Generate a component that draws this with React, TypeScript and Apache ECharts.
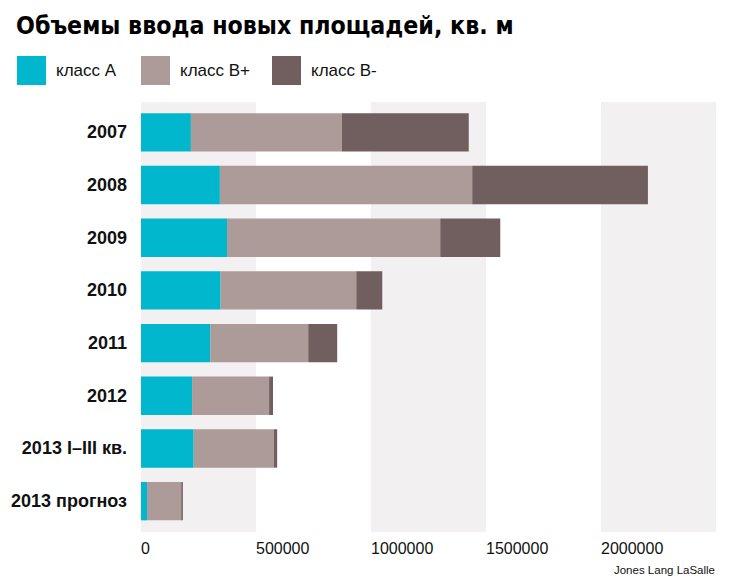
import React, { useEffect, useRef } from "react";
import * as echarts from "echarts";

const categories = ["2007", "2008", "2009", "2010", "2011", "2012", "2013 I–III кв.", "2013 прогноз"];
const seriesNames = ["класс А", "класс В+", "класс В-"];
const classA = [217000, 343000, 374000, 346000, 301000, 222000, 229000, 26000];
const classBPlus = [656000, 1097000, 927000, 590000, 426000, 335000, 349000, 149000];
const classBMinus = [552000, 764000, 261000, 113000, 126000, 17000, 14000, 7000];
const xTicks = [0, 500000, 1000000, 1500000, 2000000, 2500000];
const colors = ["#00b7cd", "#ad9b9a", "#705f5e"];

const titleText = "Объемы ввода новых площадей, кв. м";
const sourceText = "Jones Lang LaSalle";

export default function App() {
  const ref = useRef<HTMLDivElement>(null);
  useEffect(() => {
    if (!ref.current) return;
    const chart = echarts.init(ref.current, undefined, { renderer: "svg" });
    const values = [classA, classBPlus, classBMinus];
    const legendLefts = [17, 141, 272];
    const xMin = xTicks[0];
    const xMax = xTicks[xTicks.length - 1];
    const interval = xTicks[1] - xTicks[0];
    chart.setOption({
      animation: false,
      backgroundColor: "#ffffff",
      textStyle: { fontFamily: '"Liberation Sans", Arial, sans-serif' },
      graphic: [
        {
          type: "text",
          left: 16,
          top: 13,
          style: {
            text: titleText,
            fontFamily: '"DejaVu Sans Condensed", "Liberation Sans Narrow", "DejaVu Sans", sans-serif',
            fontWeight: "bold",
            fontSize: 24.7,
            fill: "#000000",
          },
        },
        {
          type: "text",
          right: 23,
          top: 564,
          style: {
            text: sourceText,
            fontFamily: '"Liberation Sans", Arial, sans-serif',
            fontSize: 11.5,
            fill: "#111111",
          },
        },
      ],
      legend: seriesNames.map((n, i) => ({
        data: [n],
        left: legendLefts[i],
        top: 56,
        padding: 0,
        icon: "rect",
        itemWidth: 29,
        itemHeight: 29,
        selectedMode: false,
        textStyle: {
          fontSize: 17,
          color: "#111111",
          padding: [0, 0, 0, 5],
          fontFamily: '"Liberation Sans", Arial, sans-serif',
        },
      })),
      grid: [
        { left: 141, right: 22, top: 102, height: 430, containLabel: false },
        { left: 141, right: 22, top: 106, height: 421.5, containLabel: false },
      ],
      xAxis: [
        {
          type: "value",
          gridIndex: 0,
          min: xMin,
          max: xMax,
          interval,
          axisLine: { show: false },
          axisTick: { show: false },
          splitLine: { show: false },
          splitArea: { show: true, areaStyle: { color: ["#f2f0f1", "#ffffff"] } },
          axisLabel: {
            showMaxLabel: false,
            align: "left",
            margin: 8,
            fontSize: 16,
            color: "#111111",
            formatter: (v: number) => String(v),
          },
        },
        {
          type: "value",
          gridIndex: 1,
          min: xMin,
          max: xMax,
          show: false,
        },
      ],
      yAxis: [
        { type: "value", gridIndex: 0, show: false },
        {
          type: "category",
          gridIndex: 1,
          inverse: true,
          data: categories,
          axisLine: { show: false },
          axisTick: { show: false },
          splitLine: { show: false },
          axisLabel: {
            margin: 14,
            fontSize: 18,
            fontWeight: "bold",
            color: "#111111",
          },
        },
      ],
      series: seriesNames.map((n, i) => ({
        name: n,
        type: "bar",
        stack: "total",
        xAxisIndex: 1,
        yAxisIndex: 1,
        barWidth: 38.4,
        data: values[i],
        itemStyle: { color: colors[i] },
      })),
    });
    return () => chart.dispose();
  }, []);
  return (
    <div
      ref={ref}
      style={{ position: "fixed", left: 0, top: 0, width: 738, height: 587, background: "#fff" }}
    />
  );
}
